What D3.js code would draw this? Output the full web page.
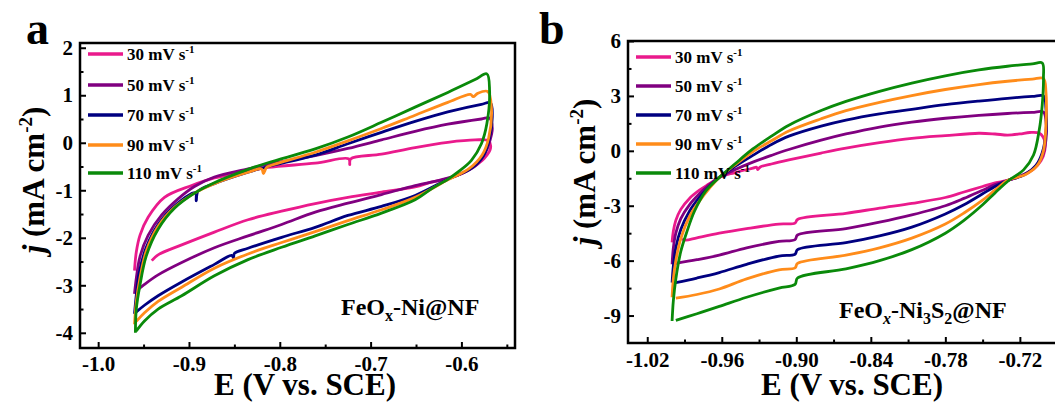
<!DOCTYPE html>
<html>
<head>
<meta charset="utf-8">
<script src="https://cdn.jsdelivr.net/npm/d3@7"></script>
<style>
  body { margin: 0; background: #fff; }
</style>
</head>
<body>
<svg id="chart" width="1055" height="405"></svg>
<script>
const FONT = '"Liberation Serif", "Times New Roman", Times, serif';

// scan rates (legend) and series colours
const scanRates = ["30", "50", "70", "90", "110"];
const colors = ["#ea1a8c", "#800080", "#000080", "#ff8c1a", "#0a8a0a"];

// tick labels
const aXTicks = [-1.0, -0.9, -0.8, -0.7, -0.6];
const aYTicks = [-4, -3, -2, -1, 0, 1, 2];
const bXTicks = [-1.02, -0.96, -0.90, -0.84, -0.78, -0.72];
const bYTicks = [-9, -6, -3, 0, 3, 6];

// panel a : FeOx-Ni@NF, [E (V), j (mA cm-2)]
const cvA30 = [[-0.960,-2.69],[-0.958,-2.30],[-0.954,-1.95],[-0.945,-1.57],[-0.927,-1.15],[-0.897,-0.90],[-0.872,-0.74],[-0.835,-0.60],[-0.813,-0.52],[-0.761,-0.43],[-0.724,-0.34],[-0.723,-0.46],[-0.722,-0.34],[-0.688,-0.24],[-0.651,-0.10],[-0.615,0.01],[-0.585,0.06],[-0.570,0.04],[-0.568,-0.12],[-0.575,-0.33],[-0.588,-0.52],[-0.606,-0.70],[-0.633,-0.83],[-0.651,-0.93],[-0.688,-1.04],[-0.725,-1.15],[-0.761,-1.28],[-0.798,-1.44],[-0.835,-1.62],[-0.872,-1.88],[-0.908,-2.15],[-0.934,-2.36],[-0.941,-2.48]];
const cvA50 = [[-0.960,-3.18],[-0.958,-2.85],[-0.954,-2.40],[-0.945,-1.95],[-0.930,-1.52],[-0.912,-1.18],[-0.894,-0.92],[-0.872,-0.72],[-0.835,-0.55],[-0.813,-0.45],[-0.761,-0.27],[-0.725,-0.12],[-0.688,0.06],[-0.651,0.24],[-0.615,0.39],[-0.578,0.50],[-0.569,0.52],[-0.566,0.30],[-0.569,0.02],[-0.574,-0.23],[-0.583,-0.46],[-0.600,-0.65],[-0.622,-0.78],[-0.651,-0.90],[-0.688,-1.09],[-0.725,-1.27],[-0.761,-1.46],[-0.798,-1.72],[-0.835,-1.96],[-0.872,-2.21],[-0.908,-2.52],[-0.934,-2.78],[-0.949,-2.98],[-0.958,-3.12]];
const cvA70 = [[-0.960,-3.60],[-0.958,-3.20],[-0.955,-2.75],[-0.947,-2.20],[-0.934,-1.72],[-0.916,-1.33],[-0.893,-1.05],[-0.892,-1.22],[-0.890,-1.02],[-0.872,-0.86],[-0.835,-0.62],[-0.813,-0.50],[-0.761,-0.26],[-0.725,-0.02],[-0.688,0.22],[-0.651,0.45],[-0.615,0.65],[-0.578,0.81],[-0.568,0.84],[-0.566,0.55],[-0.569,0.10],[-0.576,-0.28],[-0.590,-0.55],[-0.615,-0.77],[-0.651,-1.11],[-0.688,-1.34],[-0.725,-1.53],[-0.761,-1.78],[-0.798,-1.99],[-0.835,-2.22],[-0.850,-2.33],[-0.851,-2.42],[-0.853,-2.37],[-0.872,-2.56],[-0.908,-2.93],[-0.934,-3.22],[-0.949,-3.42],[-0.958,-3.56]];
const cvA90 = [[-0.960,-3.82],[-0.958,-3.35],[-0.954,-2.85],[-0.947,-2.28],[-0.934,-1.76],[-0.916,-1.36],[-0.893,-1.05],[-0.872,-0.86],[-0.835,-0.62],[-0.820,-0.55],[-0.818,-0.65],[-0.815,-0.53],[-0.813,-0.50],[-0.761,-0.20],[-0.725,0.04],[-0.688,0.30],[-0.651,0.58],[-0.615,0.85],[-0.590,1.02],[-0.587,0.97],[-0.582,1.04],[-0.571,1.08],[-0.567,0.75],[-0.570,0.10],[-0.577,-0.25],[-0.592,-0.55],[-0.615,-0.78],[-0.651,-1.15],[-0.688,-1.41],[-0.725,-1.64],[-0.761,-1.87],[-0.798,-2.10],[-0.835,-2.34],[-0.872,-2.64],[-0.908,-3.04],[-0.934,-3.34],[-0.949,-3.58],[-0.958,-3.76]];
const cvA110 = [[-0.959,-4.00],[-0.958,-3.50],[-0.954,-3.00],[-0.947,-2.38],[-0.934,-1.82],[-0.916,-1.38],[-0.893,-1.05],[-0.872,-0.84],[-0.835,-0.56],[-0.813,-0.42],[-0.761,-0.13],[-0.725,0.12],[-0.688,0.43],[-0.651,0.75],[-0.615,1.06],[-0.585,1.33],[-0.572,1.45],[-0.569,1.10],[-0.572,0.40],[-0.578,-0.02],[-0.589,-0.37],[-0.604,-0.62],[-0.615,-0.77],[-0.633,-0.97],[-0.651,-1.20],[-0.688,-1.48],[-0.725,-1.72],[-0.761,-1.96],[-0.798,-2.20],[-0.835,-2.46],[-0.872,-2.80],[-0.908,-3.22],[-0.934,-3.50],[-0.949,-3.75],[-0.958,-3.96]];

// panel b : FeOx-Ni3S2@NF
const cvB30 = [[-1.000,-5.00],[-0.999,-4.40],[-0.997,-3.80],[-0.993,-3.20],[-0.986,-2.60],[-0.978,-2.15],[-0.970,-1.80],[-0.962,-1.45],[-0.950,-1.20],[-0.935,-0.95],[-0.932,-0.90],[-0.931,-1.02],[-0.929,-0.88],[-0.920,-0.72],[-0.906,-0.50],[-0.880,-0.12],[-0.860,0.15],[-0.833,0.45],[-0.807,0.68],[-0.780,0.83],[-0.753,0.96],[-0.740,0.92],[-0.730,0.86],[-0.720,0.92],[-0.712,1.00],[-0.704,0.95],[-0.700,0.55],[-0.700,0.00],[-0.703,-0.55],[-0.709,-1.00],[-0.718,-1.35],[-0.730,-1.62],[-0.740,-1.75],[-0.750,-1.95],[-0.765,-2.25],[-0.780,-2.55],[-0.807,-2.87],[-0.833,-3.13],[-0.860,-3.42],[-0.899,-3.75],[-0.901,-3.95],[-0.914,-4.00],[-0.940,-4.25],[-0.962,-4.50],[-0.980,-4.75],[-0.989,-4.88],[-0.992,-4.82]];
const cvB50 = [[-1.000,-6.20],[-0.999,-5.30],[-0.997,-4.50],[-0.993,-3.70],[-0.986,-2.95],[-0.978,-2.35],[-0.970,-1.85],[-0.962,-1.45],[-0.950,-1.05],[-0.935,-0.62],[-0.920,-0.25],[-0.906,0.07],[-0.880,0.58],[-0.860,0.92],[-0.833,1.30],[-0.807,1.57],[-0.780,1.78],[-0.753,1.94],[-0.730,2.04],[-0.710,2.10],[-0.701,2.12],[-0.699,1.60],[-0.699,0.60],[-0.702,-0.30],[-0.708,-0.90],[-0.717,-1.30],[-0.730,-1.62],[-0.740,-1.85],[-0.750,-2.15],[-0.765,-2.60],[-0.780,-3.00],[-0.807,-3.50],[-0.833,-3.90],[-0.860,-4.25],[-0.899,-4.60],[-0.901,-4.85],[-0.914,-4.95],[-0.940,-5.30],[-0.962,-5.70],[-0.980,-5.95],[-0.997,-6.15]];
const cvB70 = [[-1.000,-7.20],[-0.999,-6.30],[-0.997,-5.30],[-0.993,-4.30],[-0.986,-3.30],[-0.978,-2.55],[-0.970,-1.95],[-0.962,-1.45],[-0.950,-0.88],[-0.935,-0.25],[-0.920,0.35],[-0.906,0.80],[-0.880,1.35],[-0.860,1.68],[-0.833,2.02],[-0.807,2.27],[-0.780,2.52],[-0.753,2.72],[-0.730,2.87],[-0.710,2.97],[-0.701,3.00],[-0.699,2.30],[-0.699,1.00],[-0.702,-0.10],[-0.707,-0.80],[-0.716,-1.30],[-0.730,-1.62],[-0.740,-1.95],[-0.750,-2.35],[-0.765,-2.95],[-0.780,-3.45],[-0.807,-4.17],[-0.833,-4.65],[-0.860,-5.02],[-0.899,-5.40],[-0.901,-5.65],[-0.914,-5.75],[-0.940,-6.20],[-0.962,-6.65],[-0.980,-6.95],[-0.997,-7.20]];
const cvB90 = [[-1.000,-8.00],[-0.999,-7.00],[-0.997,-6.00],[-0.993,-4.80],[-0.986,-3.60],[-0.978,-2.75],[-0.970,-2.05],[-0.962,-1.45],[-0.950,-0.80],[-0.935,-0.05],[-0.920,0.55],[-0.906,1.08],[-0.880,1.75],[-0.860,2.20],[-0.833,2.65],[-0.807,3.02],[-0.780,3.35],[-0.753,3.62],[-0.730,3.80],[-0.710,3.92],[-0.701,3.95],[-0.699,3.20],[-0.699,1.40],[-0.701,0.00],[-0.706,-0.80],[-0.715,-1.28],[-0.730,-1.62],[-0.740,-2.15],[-0.750,-2.70],[-0.765,-3.40],[-0.780,-4.00],[-0.807,-4.77],[-0.833,-5.30],[-0.860,-5.70],[-0.899,-6.15],[-0.901,-6.40],[-0.914,-6.50],[-0.940,-7.00],[-0.962,-7.55],[-0.980,-7.85],[-0.997,-8.05]];
const cvB110 = [[-1.000,-9.30],[-0.999,-8.20],[-0.997,-7.00],[-0.993,-5.50],[-0.988,-4.40],[-0.982,-3.30],[-0.973,-2.20],[-0.962,-1.45],[-0.950,-0.75],[-0.935,0.10],[-0.920,0.80],[-0.906,1.40],[-0.880,2.20],[-0.860,2.70],[-0.833,3.25],[-0.807,3.70],[-0.780,4.10],[-0.753,4.42],[-0.730,4.62],[-0.710,4.75],[-0.702,4.80],[-0.701,4.00],[-0.702,2.50],[-0.7045,1.10],[-0.709,-0.23],[-0.717,-1.04],[-0.729,-1.62],[-0.740,-2.30],[-0.750,-2.95],[-0.765,-3.80],[-0.780,-4.50],[-0.807,-5.40],[-0.833,-6.00],[-0.860,-6.45],[-0.899,-6.95],[-0.901,-7.30],[-0.914,-7.50],[-0.940,-8.00],[-0.962,-8.50],[-0.980,-8.90],[-0.997,-9.26]];

const svg = d3.select("#chart").attr("font-family", FONT).attr("font-weight", "bold");

function styleText(sel) {
  return sel.style("font-family", FONT).style("font-weight", "bold").attr("fill", "#000");
}

function drawPanel(p) {
  const x = d3.scaleLinear().domain(p.xDomain).range([p.left, p.right]);
  const y = d3.scaleLinear().domain(p.yDomain).range([p.bottom, p.top]);
  const g = svg.append("g");

  // minor ticks
  g.append("g").attr("transform", `translate(0,${p.bottom})`)
    .call(d3.axisBottom(x).tickValues(p.xMinor).tickSize(-3.5).tickFormat(""))
    .call(a => a.select(".domain").remove());
  g.append("g").attr("transform", `translate(${p.left},0)`)
    .call(d3.axisLeft(y).tickValues(p.yMinor).tickSize(-3.5).tickFormat(""))
    .call(a => a.select(".domain").remove());

  // major ticks + labels
  const xa = g.append("g").attr("transform", `translate(0,${p.bottom})`)
    .call(d3.axisBottom(x).tickValues(p.xTicks).tickSizeInner(-6).tickSizeOuter(0)
      .tickPadding(p.xPad).tickFormat(d => d.toFixed(p.xDigits)));
  const ya = g.append("g").attr("transform", `translate(${p.left},0)`)
    .call(d3.axisLeft(y).tickValues(p.yTicks).tickSizeInner(-6).tickSizeOuter(0)
      .tickPadding(7).tickFormat(d => String(d)));
  [xa, ya].forEach(a => {
    a.attr("font-family", null).attr("font-size", null);
    a.select(".domain").remove();
    styleText(a.selectAll("text")).style("font-size", "21px");
  });
  g.selectAll(".tick line").attr("stroke", "#000").attr("stroke-width", 2);

  // CV loops
  const line = d3.line().x(d => x(d[0])).y(d => y(d[1])).curve(d3.curveCatmullRom.alpha(0.5));
  p.series.forEach((s, i) => {
    g.append("path").datum(s).attr("d", line)
      .attr("fill", "none").attr("stroke", colors[i]).attr("stroke-width", 2.8)
      .attr("stroke-linejoin", "round");
  });

  // frame
  g.append("rect")
    .attr("x", p.left).attr("y", p.top)
    .attr("width", p.right - p.left).attr("height", p.bottom - p.top)
    .attr("fill", "none").attr("stroke", "#000").attr("stroke-width", 2.5);

  // legend
  scanRates.forEach((r, i) => {
    const ly = p.legendY[i];
    g.append("line")
      .attr("x1", p.left + 8).attr("x2", p.left + 43)
      .attr("y1", ly).attr("y2", ly)
      .attr("stroke", colors[i]).attr("stroke-width", 3.5);
    const t = styleText(g.append("text").attr("x", p.left + 47).attr("y", ly + 6)).style("font-size", "17px");
    t.append("tspan").text(r + " mV s");
    t.append("tspan").style("font-size", "11px").attr("dy", -7).text("-1");
  });

  // axis titles
  styleText(g.append("text").attr("x", p.xLabelX).attr("y", 395).attr("text-anchor", "middle"))
    .style("font-size", "31px").text("E (V vs. SCE)");
  const yl = styleText(g.append("text")
    .attr("transform", `translate(${p.yLabelX},${p.yLabelY}) rotate(-90)`)
    .attr("text-anchor", "middle")).style("font-size", "31px");
  yl.append("tspan").style("font-style", "italic").text("j");
  yl.append("tspan").text(" (mA cm");
  yl.append("tspan").style("font-size", "19px").attr("dy", -12).text("-2");
  yl.append("tspan").attr("dy", 12).text(")");

  // panel letter
  styleText(g.append("text").attr("x", p.letterX).attr("y", 44)).style("font-size", "46px").text(p.letter);

  // sample name
  const nm = styleText(g.append("text").attr("x", p.nameX).attr("y", p.nameY)).style("font-size", "24px");
  p.name.forEach(part => {
    const ts = nm.append("tspan").text(part.t);
    if (part.sub) ts.style("font-size", "16px").attr("dy", 6);
    if (part.back) ts.attr("dy", -6);
    if (part.italic) ts.style("font-style", "italic");
  });
}

drawPanel({
  left: 80, right: 515, top: 43, bottom: 348,
  xDomain: [-1.02, -0.541], yDomain: [-4.32, 2.1],
  xTicks: aXTicks, yTicks: aYTicks, xDigits: 1, xPad: 8,
  xMinor: [-0.95, -0.85, -0.75, -0.65, -0.55],
  yMinor: [-3.5, -2.5, -1.5, -0.5, 0.5, 1.5],
  series: [cvA30, cvA50, cvA70, cvA90, cvA110],
  legendY: [54, 85, 115, 145, 173],
  xLabelX: 305, yLabelX: 44, yLabelY: 180,
  letter: "a", letterX: 26,
  nameX: 341, nameY: 315,
  name: [{t: "FeO"}, {t: "x", sub: true}, {t: "-Ni@NF", back: true}]
});

drawPanel({
  left: 628, right: 1058, top: 41, bottom: 343,
  xDomain: [-1.0355, -0.6893], yDomain: [-10.5, 6.0],
  xTicks: bXTicks, yTicks: bYTicks, xDigits: 2, xPad: 9,
  xMinor: [-0.99, -0.93, -0.87, -0.81, -0.75, -0.69],
  yMinor: [-7.5, -4.5, -1.5, 1.5, 4.5],
  series: [cvB30, cvB50, cvB70, cvB90, cvB110],
  legendY: [57, 86, 115, 144, 173],
  xLabelX: 852, yLabelX: 595, yLabelY: 172,
  letter: "b", letterX: 539,
  nameX: 839, nameY: 318,
  name: [{t: "FeO"}, {t: "x", sub: true, italic: true}, {t: "-Ni", back: true},
         {t: "3", sub: true}, {t: "S", back: true}, {t: "2", sub: true}, {t: "@NF", back: true}]
});
</script>
</body>
</html>
